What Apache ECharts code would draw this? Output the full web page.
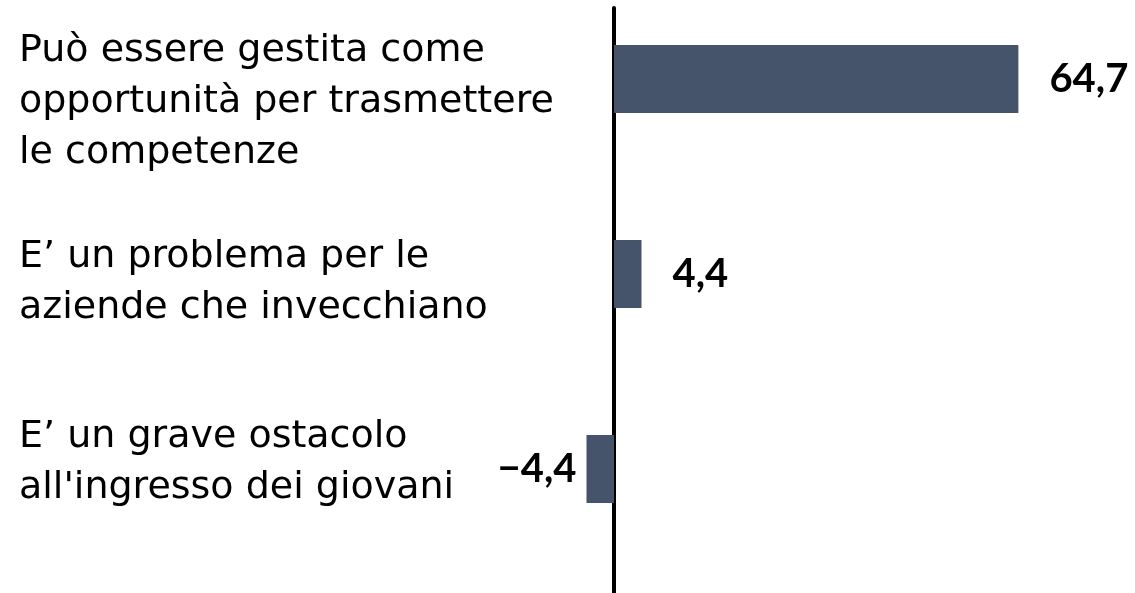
<!DOCTYPE html>
<html>
<head>
<meta charset="utf-8">
<script src="https://cdn.jsdelivr.net/npm/echarts@6/dist/echarts.min.js"></script>
<style>html,body{margin:0;padding:0;background:#fff;}#c{width:1135px;height:593px;}</style>
</head>
<body>
<div id="c"></div>
<script>
const categories = [
  "Può essere gestita come\nopportunità per trasmettere\nle competenze",
  "E’ un problema per le\naziende che invecchiano",
  "E’ un grave ostacolo\nall'ingresso dei giovani"
];
const values = [64.7, 4.4, -4.4];

const chart = echarts.init(document.getElementById('c'));
const LABEL_FONT = 'DejaVu Sans';
const VALUE_FONT = 'Lato';
const gridLeft = 551.5, gridRight = 83.5;
// vertical nudge of each category label: [spacer above, spacer below]
const labelNudge = [[46, 0], [18, 0], [0, 12]];

chart.setOption({
  animation: false,
  grid: [
    {left: gridLeft, right: gridRight, top: -18.5, bottom: 26.5, outerBoundsMode: 'none', containLabel: false},
    {left: gridLeft, right: gridRight, top: 8, bottom: 0, outerBoundsMode: 'none', containLabel: false}
  ],
  xAxis: [
    {gridIndex: 0, type: 'value', min: -10, max: 70, show: false},
    {gridIndex: 1, type: 'value', min: -10, max: 70, show: false}
  ],
  yAxis: [
    {
      gridIndex: 0, type: 'category', inverse: true,
      data: categories,
      axisLine: {show: false, onZero: false}, axisTick: {show: false},
      axisLabel: {
        align: 'left', margin: gridLeft - 19, fontFamily: LABEL_FONT, fontSize: 38, color: '#000', lineHeight: 51,
        formatter: (val, idx) => {
          const n = labelNudge[idx] || [0, 0];
          let s = val;
          if (n[0]) s = '{g' + n[0] + '| }\n' + s;
          if (n[1]) s = s + '\n{g' + n[1] + '| }';
          return s;
        },
        rich: {
          g46: {fontSize: 1, lineHeight: 46},
          g18: {fontSize: 1, lineHeight: 18},
          g12: {fontSize: 1, lineHeight: 12}
        }
      }
    },
    {
      gridIndex: 1, type: 'value', min: 0, max: 1,
      axisLine: {show: true, onZero: true, lineStyle: {color: '#000', width: 4}},
      axisTick: {show: false}, axisLabel: {show: false}, splitLine: {show: false}
    }
  ],
  series: [{
    type: 'bar', xAxisIndex: 0, yAxisIndex: 0, barWidth: 68,
    data: values.map(v => ({value: v, label: {position: v >= 0 ? 'right' : 'left', distance: v >= 0 ? 31 : 10}})),
    itemStyle: {color: '#46546b'},
    label: {show: true, fontFamily: VALUE_FONT, fontWeight: 'bold', fontSize: 40, color: '#000',
      formatter: p => String(p.value).replace('.', ',').replace('-', '−')}
  }]
});
</script>
</body>
</html>
